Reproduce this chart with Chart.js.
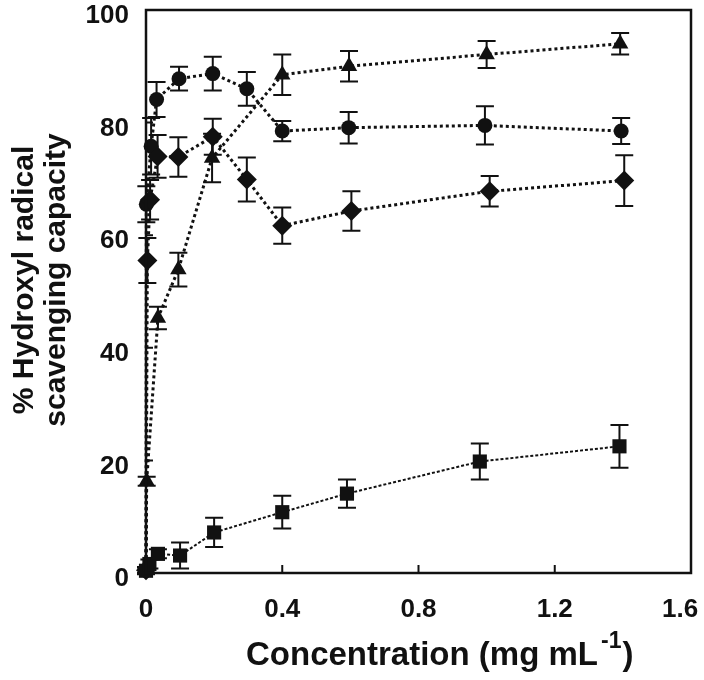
<!DOCTYPE html>
<html>
<head>
<meta charset="utf-8">
<script src="https://cdn.jsdelivr.net/npm/chart.js@4.4.1/dist/chart.umd.min.js"></script>
<style>
  html, body { margin: 0; padding: 0; background: #ffffff; }
  #wrap { width: 704px; height: 680px; }
</style>
</head>
<body>
<div id="wrap"><canvas id="c" width="704" height="680"></canvas></div>
<script>
// ---- tick labels ----
const xTickValues = [0, 0.4, 0.8, 1.2, 1.6];
const xTickLabels = ['0', '0.4', '0.8', '1.2', '1.6'];
const yTickValues = [0, 20, 40, 60, 80, 100];
const yTickLabels = ['0', '20', '40', '60', '80', '100'];

// ---- series (concentration mg/mL, % scavenging, error) ----
const squareConc = [0, 0.01, 0.035, 0.1, 0.2, 0.4, 0.59, 0.98, 1.39];
const squareVal  = [0.4, 1.6, 3.4, 3.1, 7.2, 10.8, 14.1, 19.8, 22.5];
const squareErr  = [0.6, 0.8, 0.8, 2.3, 2.6, 2.9, 2.5, 3.2, 3.8];

const circleConc = [0, 0.001, 0.015, 0.031, 0.097, 0.196, 0.296, 0.4, 0.595, 0.995, 1.395];
const circleVal  = [0.5, 65.5, 75.8, 84.1, 87.8, 88.7, 86.0, 78.5, 79.1, 79.5, 78.5];
const circleErr  = [0.5, 3.2, 5.0, 3.1, 2.1, 3.0, 3.0, 1.8, 2.8, 3.4, 2.3];

const triangleConc = [0, 0.002, 0.035, 0.095, 0.194, 0.4, 0.596, 1.0, 1.392];
const triangleVal  = [0.5, 16.3, 45.3, 53.9, 73.7, 88.5, 90.0, 92.1, 94.0];
const triangleErr  = [0.5, 0.8, 2.0, 3.0, 4.3, 3.6, 2.7, 2.4, 1.9];

const diamondConc = [0, 0.004, 0.012, 0.034, 0.095, 0.196, 0.296, 0.4, 0.603, 1.009, 1.404];
const diamondVal  = [0.5, 55.5, 66.3, 74.0, 73.9, 77.5, 69.9, 61.7, 64.3, 67.8, 69.7];
const diamondErr  = [0.5, 4.0, 3.5, 3.8, 3.5, 3.2, 3.9, 3.2, 3.5, 2.7, 4.5];

// ---- texts ----
const xTitleMain = 'Concentration (mg mL';
const xTitleSup = '-1';
const xTitleEnd = ')';
const yTitleLines = ['% Hydroxyl radical', 'scavenging capacity'];

const INK = '#111111';
const FONT = "'Liberation Sans', Arial, Helvetica, sans-serif";

function pts(xs, ys, es) { return xs.map((x, i) => ({ x: x, y: ys[i], err: es[i] })); }

function series(data, style, radius, width, dash) {
  return {
    data: data, showLine: true, tension: 0, clip: false,
    borderColor: INK, borderWidth: width, borderDash: dash,
    pointStyle: style, pointRadius: radius, pointHoverRadius: radius,
    pointBackgroundColor: INK, pointBorderColor: INK, pointBorderWidth: 0
  };
}

const errorBars = {
  id: 'errorBars',
  beforeDatasetsDraw(chart) {
    const { ctx, scales } = chart;
    const xs = scales.x, ys = scales.y;
    ctx.save();
    ctx.strokeStyle = INK;
    ctx.lineWidth = 2;
    ctx.setLineDash([]);
    chart.data.datasets.forEach(ds => {
      ds.data.forEach(p => {
        const px = xs.getPixelForValue(p.x);
        const t = ys.getPixelForValue(p.y + p.err);
        const b = ys.getPixelForValue(p.y - p.err);
        const cap = 9;
        ctx.beginPath();
        ctx.moveTo(px, t); ctx.lineTo(px, b);
        ctx.moveTo(px - cap, t); ctx.lineTo(px + cap, t);
        ctx.moveTo(px - cap, b); ctx.lineTo(px + cap, b);
        ctx.stroke();
      });
    });
    ctx.restore();
  }
};

const frame = {
  id: 'frame',
  afterDraw(chart) {
    const { ctx, chartArea: a, scales } = chart;
    ctx.save();
    ctx.strokeStyle = INK;
    ctx.lineWidth = 2.5;
    ctx.setLineDash([]);
    ctx.strokeRect(a.left, a.top, a.right - a.left, a.bottom - a.top);
    // inward ticks
    ctx.lineWidth = 2;
    ctx.beginPath();
    xTickValues.slice(1, -1).forEach(v => {
      const px = scales.x.getPixelForValue(v);
      ctx.moveTo(px, a.bottom); ctx.lineTo(px, a.bottom - 8);
    });
    yTickValues.slice(1, -1).forEach(v => {
      const py = scales.y.getPixelForValue(v);
      ctx.moveTo(a.left, py); ctx.lineTo(a.left + 7, py);
    });
    ctx.stroke();

    // x title with superscript
    ctx.fillStyle = INK;
    ctx.textBaseline = 'alphabetic';
    ctx.textAlign = 'left';
    ctx.font = 'bold 33px ' + FONT;
    let x0 = 246;
    const base = 665;
    ctx.fillText(xTitleMain, x0, base);
    x0 += ctx.measureText(xTitleMain).width + 3;
    ctx.font = 'bold 23px ' + FONT;
    ctx.fillText(xTitleSup, x0, base - 17);
    x0 += ctx.measureText(xTitleSup).width + 1;
    ctx.font = 'bold 33px ' + FONT;
    ctx.fillText(xTitleEnd, x0, base);

    // y title (two lines, rotated)
    ctx.font = 'bold 30px ' + FONT;
    ctx.textAlign = 'center';
    const baselines = [32.5, 64.5];
    yTitleLines.forEach((line, i) => {
      ctx.save();
      ctx.translate(baselines[i], 280);
      ctx.rotate(-Math.PI / 2);
      ctx.fillText(line, 0, 0);
      ctx.restore();
    });
    ctx.restore();
  }
};

new Chart(document.getElementById('c'), {
  type: 'scatter',
  data: {
    datasets: [
      series(pts(squareConc, squareVal, squareErr), 'rect', 10, 2, [3, 2]),
      series(pts(diamondConc, diamondVal, diamondErr), 'rectRot', 10, 3, [3, 3]),
      series(pts(circleConc, circleVal, circleErr), 'circle', 7.5, 3, [3, 3]),
      series(pts(triangleConc, triangleVal, triangleErr), 'triangle', 9.5, 3, [3, 3])
    ]
  },
  options: {
    responsive: false,
    animation: false,
    devicePixelRatio: 1,
    layout: { padding: { top: 10, right: 13, left: 0, bottom: 0 } },
    plugins: { legend: { display: false }, tooltip: { enabled: false } },
    scales: {
      x: {
        type: 'linear', min: 0, max: 1.6,
        afterBuildTicks: s => { s.ticks = xTickValues.map(v => ({ value: v })); },
        afterFit: s => { s.height = 107; s.paddingLeft = 0; s.paddingRight = 0; },
        grid: { display: false }, border: { display: false },
        ticks: {
          color: INK, padding: 13, maxRotation: 0, autoSkip: false,
          font: { family: FONT, size: 26, weight: 'bold' },
          // last label pulled inward so it stays inside the canvas, as in the source
          callback: (v, i) => xTickLabels[i] + (i === xTickLabels.length - 1 ? '   ' : '')
        }
      },
      y: {
        type: 'linear', min: 0, max: 100,
        afterBuildTicks: s => { s.ticks = yTickValues.map(v => ({ value: v })); },
        afterFit: s => { s.width = 146; s.paddingTop = 0; s.paddingBottom = 0; },
        grid: { display: false }, border: { display: false },
        ticks: {
          color: INK, padding: 9, autoSkip: false, labelOffset: 6,
          font: { family: FONT, size: 26, weight: 'bold' },
          callback: (v, i) => yTickLabels[i]
        }
      }
    }
  },
  plugins: [errorBars, frame]
});
</script>
</body>
</html>
